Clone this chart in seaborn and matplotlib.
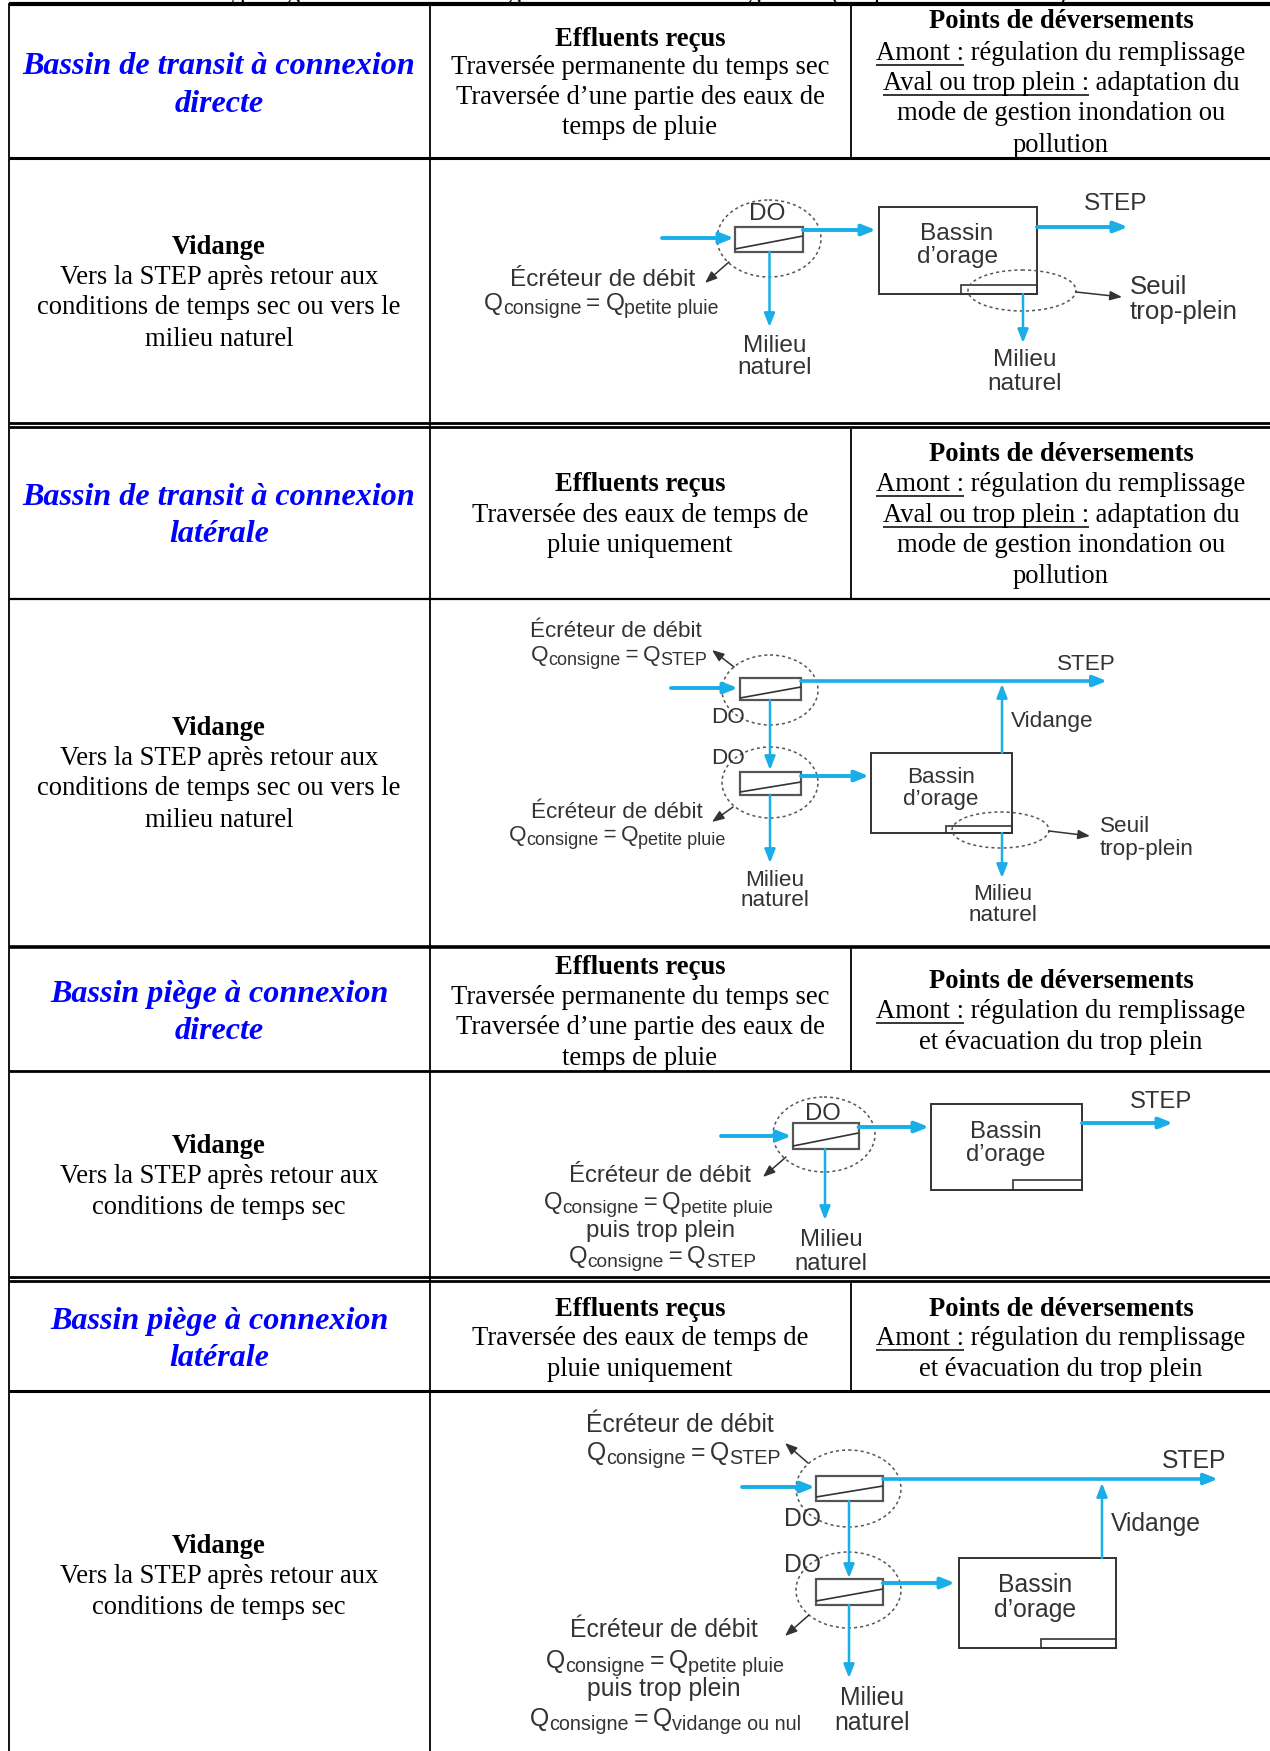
import matplotlib
matplotlib.use("Agg")
import matplotlib.pyplot as plt
from matplotlib.patches import Ellipse, Rectangle
import seaborn as sns

sns.set_theme(style="white")
plt.rcParams["font.family"] = ["Liberation Serif", "DejaVu Serif"]
plt.rcParams["text.color"] = "black"

W, H = 1270, 1751
BLUE = "#0000ff"
FLOW = "#19aee8"
INK = "#333333"

# ---- table content ----
CAPTION = "Typologie des bassins d’orage selon leur mode de gestion (d’après Chocat et al.)"
TITLES = [
    ["Bassin de transit à connexion", "directe"],
    ["Bassin de transit à connexion", "latérale"],
    ["Bassin piège à connexion", "directe"],
    ["Bassin piège à connexion", "latérale"],
]
TITLE_Y = [[67, 104], [497, 534], [994, 1031], [1321, 1358]]

EFFLUENTS_A = ["Traversée permanente du temps sec", "Traversée d’une partie des eaux de", "temps de pluie"]
EFFLUENTS_B = ["Traversée des eaux de temps de", "pluie uniquement"]
EFFLUENTS = [EFFLUENTS_A, EFFLUENTS_B, EFFLUENTS_A, EFFLUENTS_B]
EFF_Y = [[39, 68, 98, 128], [484, 515, 545], [967, 997, 1027, 1058], [1309, 1338, 1369]]

POINTS_HEAD = "Points de déversements"
AMONT = "Amont :"
AVAL = "Aval ou trop plein :"
POINTS_A = [(AMONT, " régulation du remplissage"),
            (AVAL, " adaptation du"),
            ("", "mode de gestion inondation ou"),
            ("", "pollution")]
POINTS_B = [(AMONT, " régulation du remplissage"),
            ("", "et évacuation du trop plein")]
POINTS = [POINTS_A, POINTS_A, POINTS_B, POINTS_B]
PTS_Y = [[22, 53, 83, 113, 145], [454, 484, 515, 545, 576], [981, 1011, 1042], [1309, 1338, 1369]]

VIDANGE = [
    ["Vers la STEP après retour aux", "conditions de temps sec ou vers le", "milieu naturel"],
    ["Vers la STEP après retour aux", "conditions de temps sec ou vers le", "milieu naturel"],
    ["Vers la STEP après retour aux", "conditions de temps sec"],
    ["Vers la STEP après retour aux", "conditions de temps sec"],
]
VID_Y = [[247, 277, 308, 339], [728, 758, 788, 820], [1146, 1176, 1207], [1546, 1576, 1607]]

# ---- table rules ----
RULES_Y = [4, 158, 423, 427, 599, 947, 1071, 1277, 1281, 1391]
RULES_LW = [3.0, 2.2, 2.0, 2.0, 1.6, 2.6, 2.0, 2.0, 2.0, 2.2]
COL2_SPANS = [(4, 158), (427, 599), (947, 1071), (1281, 1391)]

fig = plt.figure(figsize=(W / 100, H / 100), dpi=100, facecolor="white")
ax = fig.add_axes([0, 0, 1, 1])
ax.set_xlim(0, W)
ax.set_ylim(H, 0)
ax.axis("off")


def seg(xs, ys, color="black", lw=1.2, **kw):
    sns.lineplot(x=xs, y=ys, sort=False, estimator=None, color=color, lw=lw,
                 ax=ax, legend=False, solid_capstyle="butt", **kw)


def txt(x, y, s, size=19.2, ha="center", va="center", **kw):
    return ax.text(x, y, s, fontsize=size, ha=ha, va=va, **kw)


def arrow(p0, p1, lw=2.2, head=9, color=FLOW):
    ax.annotate("", xy=p1, xytext=p0,
                arrowprops=dict(arrowstyle=f"-|>,head_length={head * 0.09:.2f},head_width={head * 0.035:.2f}",
                                color=color, lw=lw, shrinkA=0, shrinkB=0, mutation_scale=10))


# caption running off the top of the page: only its descenders show
txt(640, 0, CAPTION, va="baseline")

# rules
for y, lw in zip(RULES_Y, RULES_LW):
    seg([9, W], [y, y], lw=lw)
seg([9, 9], [3, H], lw=1.3)
seg([430, 430], [3, H], lw=1.3)
for a, b in COL2_SPANS:
    seg([851, 851], [a, b], lw=1.3)

CX0, CX1, CX2 = 219, 640, 1061
fig.canvas.draw()
rend = fig.canvas.get_renderer()


def rich_center(x, y, under, plain, size=19.2):
    t = txt(0, y, under + plain, size=size, ha="left")
    total = t.get_window_extent(rend).width
    t.remove()
    left = x - total / 2
    if under:
        u = txt(left, y, under, size=size, ha="left")
        uw = u.get_window_extent(rend).width
        seg([left, left + uw], [y + 12, y + 12], lw=1.1)
        txt(left + uw, y, plain, size=size, ha="left")
    else:
        txt(x, y, plain, size=size)


for i in range(4):
    for s, y in zip(TITLES[i], TITLE_Y[i]):
        txt(CX0, y, s, size=23.1, color=BLUE, fontweight="bold", fontstyle="italic")
    ys = EFF_Y[i]
    txt(CX1, ys[0], "Effluents reçus", fontweight="bold")
    for s, y in zip(EFFLUENTS[i], ys[1:]):
        txt(CX1, y, s)
    ys = PTS_Y[i]
    txt(CX2, ys[0], POINTS_HEAD, fontweight="bold")
    for row, y in zip(POINTS[i], ys[1:]):
        rich_center(CX2, y, *row)
    ys = VID_Y[i]
    txt(CX0, ys[0], "Vidange", fontweight="bold")
    for s, y in zip(VIDANGE[i], ys[1:]):
        txt(CX0, y, s)

# ---- diagrams ----
SANS = ["Liberation Sans", "DejaVu Sans"]
FS = 17.5


def lab(x, y, s, ha="center"):
    return txt(x, y + 1.5, s, size=FS, ha=ha, family=SANS, color=INK)


def qline(x, y, sub1, sub2):
    """Q_sub1 = Q_sub2, x left edge, y baseline."""
    for s, fs, dy in (("Q", FS, 0), (sub1, FS * 0.8, 4), ("\u2009=\u2009", FS, 0), ("Q", FS, 0), (sub2, FS * 0.8, 4)):
        t = ax.text(x, y + 1 + dy, s, fontsize=fs, ha="left", va="baseline", family=SANS, color=INK)
        x += t.get_window_extent(rend).width


def box(x0, x1, y0, y1, lw=1.4, color=INK):
    ax.add_patch(Rectangle((x0, y0), x1 - x0, y1 - y0, fill=False, ec=color, lw=lw))


def ell(x0, x1, y0, y1):
    ax.add_patch(Ellipse(((x0 + x1) / 2, (y0 + y1) / 2), x1 - x0, y1 - y0, fill=False,
                         ec="#555555", lw=1.1, ls=(0, (2, 2))))


def regulator(x0, x1, y0, y1, s0, s1):
    box(x0, x1, y0, y1, lw=1.6, color="#555555")
    seg([x0, x1], [s0, s1], color="#333333", lw=1.2)


def bassin(x0, x1, y0, y1, sx, sy, tx, ty0, ty1):
    box(x0, x1, y0, y1)
    box(sx, x1, sy, y1, lw=1.2)
    lab(tx, ty0, "Bassin")
    lab(tx, ty1, "d’orage")


def flow(p0, p1, lw=2.2):
    arrow(p0, p1, lw=lw)


def leader(p0, p1):
    arrow(p0, p1, lw=1.1, head=8, color=INK)


# diagram 1
FS = 17.6
ell(717, 821, 200, 277)
regulator(735, 803, 227, 252, 249, 236)
flow((662, 238), (734, 238), 2.8)
flow((803, 230), (876, 230), 2.8)
flow((769.5, 252), (769.5, 327), 1.8)
bassin(879, 1037, 207, 294, 961, 285, 957, 232, 256)
ell(968, 1076, 270, 311)
flow((1037, 227), (1128, 227), 2.8)
flow((1023, 294), (1023, 343), 1.8)
leader((1076, 292), (1122, 297))
leader((729, 262), (705, 283))
lab(767, 212, "DO")
lab(1116, 202, "STEP")
lab(603, 278, "Écréteur de débit")
qline(484, 309, "consigne", "petite pluie")
lab(775, 345, "Milieu")
lab(775, 367, "naturel")
lab(1025, 358, "Milieu")
lab(1025, 382, "naturel")
FS = 18.6
lab(1130, 285, "Seuil", ha="left")
lab(1130, 310, "trop-plein", ha="left")

# diagram 2
FS = 16.2
lab(616, 630, "Écréteur de débit")
qline(531, 660, "consigne", "STEP")
leader((734, 667), (712, 650))
ell(722, 818, 655, 725)
regulator(740, 801, 678, 700, 698, 687)
flow((671, 688), (738, 688), 2.8)
flow((801, 681), (1107, 681), 2.6)
lab(1086, 663, "STEP")
flow((1002, 753), (1002, 684), 1.8)
lab(1011, 720, "Vidange", ha="left")
flow((770, 700), (770, 770), 1.8)
lab(728, 716, "DO")
lab(728, 757, "DO")
ell(722, 818, 747, 818)
regulator(740, 801, 772, 795, 792, 782)
flow((801, 776), (869, 776), 2.8)
bassin(871, 1012, 753, 833, 946, 826, 941, 776, 798)
ell(952, 1049, 812, 848)
leader((1049, 831), (1090, 836))
lab(1100, 825, "Seuil", ha="left")
lab(1100, 848, "trop-plein", ha="left")
flow((1002, 833), (1002, 878), 1.8)
lab(1003, 893, "Milieu")
lab(1003, 914, "naturel")
flow((770, 795), (770, 863), 1.8)
lab(775, 879, "Milieu")
lab(775, 899, "naturel")
lab(617, 811, "Écréteur de débit")
leader((733, 807), (712, 822))
qline(509, 840, "consigne", "petite pluie")

# diagram 3
FS = 17.2
ell(773, 875, 1097, 1172)
lab(823, 1112, "DO")
regulator(793, 858.5, 1123, 1149, 1146, 1133)
flow((721, 1136), (791.5, 1136), 2.8)
flow((858.5, 1127), (929, 1127), 2.8)
bassin(931, 1082, 1104, 1190, 1013, 1180, 1006, 1130, 1153)
flow((1082, 1123), (1173, 1123), 2.8)
lab(1161, 1100, "STEP")
flow((825, 1149), (825, 1220), 1.8)
lab(831, 1238, "Milieu")
lab(831, 1262, "naturel")
leader((786, 1157), (763, 1177))
lab(660, 1174, "Écréteur de débit")
qline(544, 1208, "consigne", "petite pluie")
lab(660, 1229, "puis trop plein")
qline(569, 1262, "consigne", "STEP")

# diagram 4
FS = 17.8
lab(680, 1423, "Écréteur de débit")
qline(587, 1459, "consigne", "STEP")
leader((808, 1463), (785, 1443))
ell(796, 901, 1450, 1527)
regulator(816, 883, 1476, 1501, 1497, 1486)
flow((742, 1487), (815, 1487), 2.8)
flow((883, 1479), (1218, 1479), 2.6)
lab(1194, 1459, "STEP")
flow((1102, 1558), (1102, 1483), 1.8)
lab(1111, 1522, "Vidange", ha="left")
flow((849, 1501), (849, 1578), 1.8)
lab(802, 1517, "DO")
lab(802, 1563, "DO")
ell(796, 901, 1552, 1628)
regulator(816, 883, 1579, 1605, 1601, 1589)
flow((883, 1583), (955, 1583), 2.8)
bassin(959, 1116, 1558, 1648, 1041, 1639, 1035, 1583, 1608)
lab(664, 1628, "Écréteur de débit")
leader((809, 1615), (785, 1636))
qline(546, 1667, "consigne", "petite pluie")
lab(664, 1687, "puis trop plein")
qline(530, 1725, "consigne", "vidange ou nul")
flow((849, 1605), (849, 1678), 1.8)
lab(872, 1696, "Milieu")
lab(872, 1721, "naturel")

fig.savefig("out.png", dpi=100, facecolor="white")
